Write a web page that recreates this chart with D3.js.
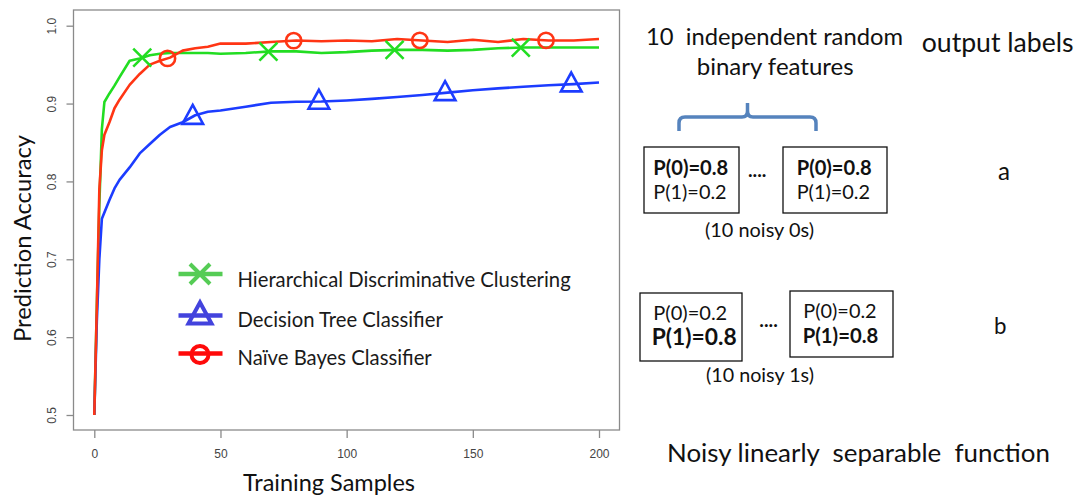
<!DOCTYPE html>
<html>
<head>
<meta charset="utf-8">
<script src="https://cdn.jsdelivr.net/npm/d3@7"></script>
<style>
  html,body{margin:0;padding:0;background:#fff;}
  svg{display:block;}
</style>
</head>
<body>
<div id="chart"></div>
<script>
// training sample sizes (x) shared by all three curves
let samples=[0,1,2,3,4,6,8,10,14,18,22,26,30,35,40,45,50,60,70,80,90,100,110,120,130,140,150,160,170,180,190,200];
let hdcAcc=[0.50,0.64,0.77,0.867,0.902,0.913,0.923,0.934,0.955,0.958,0.962,0.964,0.965,0.965,0.965,0.965,0.964,0.965,0.967,0.967,0.965,0.966,0.968,0.969,0.969,0.968,0.969,0.971,0.972,0.972,0.972,0.972];
let dtAcc=[0.50,0.62,0.70,0.752,0.760,0.776,0.791,0.802,0.818,0.836,0.848,0.860,0.870,0.876,0.885,0.8895,0.891,0.896,0.901,0.9024,0.9027,0.904,0.906,0.9085,0.911,0.914,0.917,0.9195,0.9215,0.9235,0.925,0.927];
let nbAcc=[0.50,0.64,0.79,0.84,0.860,0.876,0.894,0.905,0.924,0.938,0.950,0.955,0.959,0.968,0.971,0.973,0.977,0.977,0.979,0.981,0.980,0.981,0.980,0.983,0.981,0.979,0.982,0.979,0.983,0.981,0.981,0.983];
// where the symbols sit on each curve
let hdcMarks=[19,69,119,169];
let dtMarks=[39,89,139,189];
let nbMarks=[29,79,129,179];
let xTicks=[0,50,100,150,200];
let yTicks=[0.5,0.6,0.7,0.8,0.9,1.0];
let seriesNames=["Hierarchical Discriminative Clustering","Decision Tree Classifier","Naïve Bayes Classifier"];

(function(){
    let W=1080,H=499;
    let svg=d3.select("#chart").append("svg").attr("width",W).attr("height",H);
    let box={left:73.5,top:10,right:619.5,bottom:430};
    let x=d3.scaleLinear().domain([0,200]).range([94.3,599]);
    let y=d3.scaleLinear().domain([0.5,1.0]).range([415,25.7]);
    let tickFont="'Liberation Sans', Arial, sans-serif";
    let txtFont="Lato, 'Open Sans', sans-serif";

    function fit(sel,w){
        let cur=sel.node().getComputedTextLength();
        let fs=parseFloat(sel.attr("font-size"));
        if (cur>0) sel.attr("font-size",(fs*w/cur).toFixed(2));
        return sel;
    }

    // frame
    svg.append("rect")
        .attr("x",box.left).attr("y",box.top)
        .attr("width",box.right-box.left).attr("height",box.bottom-box.top)
        .attr("fill","none").attr("stroke","#8a8a8a").attr("stroke-width",1.3);

    // axes
    let gx=svg.append("g")
        .attr("transform","translate(0,"+box.bottom+")")
        .call(d3.axisBottom(x).tickValues(xTicks).tickSize(8).tickPadding(11).tickFormat(d3.format("d")));
    gx.select(".domain").remove();
    gx.selectAll("line").attr("stroke","#8a8a8a").attr("stroke-width",1.3);
    gx.selectAll("text").attr("fill","#444").attr("font-family",tickFont).attr("font-size",12);

    let gy=svg.append("g")
        .attr("transform","translate("+box.left+",0)")
        .call(d3.axisLeft(y).tickValues(yTicks).tickSize(7).tickFormat(d3.format(".1f")));
    gy.select(".domain").remove();
    gy.selectAll("line").attr("stroke","#8a8a8a").attr("stroke-width",1.3);
    gy.selectAll("text")
        .attr("x",0).attr("y",0).attr("dy",0)
        .attr("transform","translate(-18,0) rotate(-90)")
        .attr("text-anchor","middle")
        .attr("fill","#444").attr("font-family",tickFont).attr("font-size",12);

    // axis titles
    fit(svg.append("text").text("Training Samples")
        .attr("x",329).attr("y",491).attr("text-anchor","middle")
        .attr("font-family",txtFont).attr("font-size",24).attr("fill","#111"),172);
    fit(svg.append("text").text("Prediction Accuracy")
        .attr("transform","translate(31,238.5) rotate(-90)").attr("text-anchor","middle")
        .attr("font-family",txtFont).attr("font-size",24).attr("fill","#111"),207);

    // curves
    let series=[
        {vals:hdcAcc,marks:hdcMarks,color:"#22dd22",legend:"#55cc55",sym:"x"},
        {vals:dtAcc,marks:dtMarks,color:"#1c3cff",legend:"#4343dd",sym:"tri"},
        {vals:nbAcc,marks:nbMarks,color:"#ff3514",legend:"#ff0a0a",sym:"circ"}
    ];
    let line=d3.line().x(function(d){return x(d[0]);}).y(function(d){return y(d[1]);});
    function valueAt(vals,v){
        let i=d3.bisectLeft(samples,v);
        if (samples[i]===v) return vals[i];
        let t=(v-samples[i-1])/(samples[i]-samples[i-1]);
        return vals[i-1]+t*(vals[i]-vals[i-1]);
    }
    function symbol(g,kind,cx,cy,color,s,sw){
        if (kind==="x"){
            g.append("path")
                .attr("d","M"+(cx-s)+","+(cy-s)+"L"+(cx+s)+","+(cy+s)+"M"+(cx-s)+","+(cy+s)+"L"+(cx+s)+","+(cy-s))
                .attr("stroke",color).attr("stroke-width",sw).attr("fill","none");
        } else if (kind==="tri"){
            let p=d3.path();
            p.moveTo(cx,cy-s*1.3);p.lineTo(cx+s*1.15,cy+s*0.8);p.lineTo(cx-s*1.15,cy+s*0.8);p.closePath();
            g.append("path").attr("d",p.toString())
                .attr("stroke",color).attr("stroke-width",sw).attr("fill","none");
        } else {
            g.append("circle").attr("cx",cx).attr("cy",cy).attr("r",s*0.85)
                .attr("stroke",color).attr("stroke-width",sw).attr("fill","none");
        }
    }
    let plot=svg.append("g");
    series.forEach(function(s){
        plot.append("path")
            .datum(samples.map(function(v,i){return [v,s.vals[i]];}))
            .attr("fill","none").attr("stroke",s.color).attr("stroke-width",2.6)
            .attr("stroke-linejoin","round").attr("d",line);
    });
    series.forEach(function(s){
        s.marks.forEach(function(m){
            symbol(plot,s.sym,x(m),y(valueAt(s.vals,m)),s.color,9,2.6);
        });
    });

    // legend
    let legY=[274,315.5,353.5];
    let legTextY=[287.3,327.3,365];
    let leg=svg.append("g");
    series.forEach(function(s,i){
        leg.append("line").attr("x1",178.5).attr("x2",222.5).attr("y1",legY[i]).attr("y2",legY[i])
            .attr("stroke",s.legend).attr("stroke-width",4.5);
        symbol(leg,s.sym,200,legY[i]+(s.sym==="circ"?1:0),s.legend,10,4);
        let t=leg.append("text").text(seriesNames[i])
            .attr("x",237.5).attr("y",legTextY[i])
            .attr("font-family",txtFont).attr("font-size",20).attr("fill","#1a1a1a");
        if (i===0) fit(t,333.5);
    });
    let legFs=leg.select("text").attr("font-size");
    leg.selectAll("text").attr("font-size",legFs);

    // diagram on the right
    let boxes=[
        {x0:644,x1:739,y0:147,y1:213},
        {x0:783,x1:887,y0:147,y1:213},
        {x0:640,x1:742,y0:293,y1:361},
        {x0:790,x1:893,y0:291,y1:357}
    ];
    boxes.forEach(function(b){
        svg.append("rect").attr("x",b.x0).attr("y",b.y0).attr("width",b.x1-b.x0).attr("height",b.y1-b.y0)
            .attr("fill","none").attr("stroke","#111").attr("stroke-width",1.3);
    });
    let labels=[
        {t:"10  independent random",x:646,y:45,w:257,fs:21},
        {t:"binary features",x:696.7,y:75,w:157,fs:21},
        {t:"output labels",x:921.7,y:51.7,w:152,fs:24},
        {t:"P(0)=0.8",x:653.3,y:175,w:75,fs:18,b:1},
        {t:"P(1)=0.2",x:653.3,y:199.3,w:73.4,fs:18},
        {t:"....",x:748,y:176.7,w:18.5,fs:18,b:1},
        {t:"P(0)=0.8",x:796.7,y:175,w:75,fs:18,b:1},
        {t:"P(1)=0.2",x:796.7,y:199.3,w:73.4,fs:18},
        {t:"a",x:998,y:180,w:12,fs:24},
        {t:"(10 noisy 0s)",x:705,y:237.3,w:109,fs:18},
        {t:"P(0)=0.2",x:653.3,y:320,w:74,fs:18},
        {t:"P(1)=0.8",x:651.7,y:345,w:85,fs:18,b:1},
        {t:"....",x:759.3,y:326.7,w:18.5,fs:18,b:1},
        {t:"P(0)=0.2",x:803.3,y:317.7,w:73.4,fs:18},
        {t:"P(1)=0.8",x:802.7,y:342.7,w:75.6,fs:18,b:1},
        {t:"b",x:994,y:334,w:12.5,fs:24},
        {t:"(10 noisy 1s)",x:706,y:381.7,w:108,fs:18},
        {t:"Noisy linearly  separable  function",x:667,y:461.7,w:383,fs:25}
    ];
    labels.forEach(function(l){
        let t=svg.append("text").text(l.t)
            .attr("x",l.x).attr("y",l.y)
            .attr("font-family",txtFont).attr("font-size",l.fs)
            .attr("font-weight",l.b?"bold":"normal")
            .style("white-space","pre").attr("fill","#111");
        fit(t,l.w);
    });

    // curly brace over the feature boxes
    let p=d3.path();
    p.moveTo(679,131);p.lineTo(679,123);p.quadraticCurveTo(679,117,685,117);
    p.lineTo(742,117);p.quadraticCurveTo(747.5,117,747.5,111);p.lineTo(747.5,103);
    p.moveTo(747.5,111);p.quadraticCurveTo(747.5,117,753,117);
    p.lineTo(810,117);p.quadraticCurveTo(816,117,816,123);p.lineTo(816,131);
    svg.append("path").attr("d",p.toString()).attr("fill","none")
        .attr("stroke","#5583bd").attr("stroke-width",3.5).attr("stroke-linecap","butt");
})();
</script>
</body>
</html>
